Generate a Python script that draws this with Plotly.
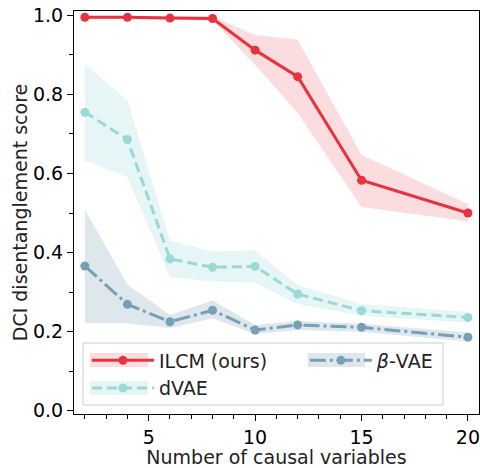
import plotly.graph_objects as go

n_vars = [2, 4, 6, 8, 10, 12, 15, 20]

ilcm_mean = [0.995, 0.995, 0.993, 0.992, 0.912, 0.845, 0.583, 0.500]
ilcm_low = [0.990, 0.990, 0.988, 0.987, 0.875, 0.753, 0.515, 0.479]
ilcm_high = [0.999, 0.999, 0.998, 0.997, 0.950, 0.938, 0.647, 0.523]

dvae_mean = [0.755, 0.686, 0.384, 0.363, 0.365, 0.295, 0.253, 0.236]
dvae_low = [0.633, 0.591, 0.338, 0.327, 0.324, 0.270, 0.240, 0.223]
dvae_high = [0.876, 0.785, 0.430, 0.403, 0.405, 0.318, 0.270, 0.250]

bvae_mean = [0.366, 0.269, 0.225, 0.254, 0.204, 0.217, 0.211, 0.186]
bvae_low = [0.221, 0.221, 0.209, 0.234, 0.194, 0.204, 0.200, 0.175]
bvae_high = [0.508, 0.319, 0.242, 0.279, 0.217, 0.227, 0.220, 0.198]

series = [
    ("ILCM (ours)", ilcm_mean, ilcm_low, ilcm_high, "#E8333F", "rgba(232,51,63,0.17)", "solid", "legend"),
    ("dVAE", dvae_mean, dvae_low, dvae_high, "#9BD9D6", "rgba(155,217,214,0.25)", "10px,5px", "legend"),
    ("<i>β</i>-VAE", bvae_mean, bvae_low, bvae_high, "#779FB5", "rgba(119,159,181,0.25)", "16px,4px,3px,4px", "legend2"),
]

fig = go.Figure()
for name, mean, low, high, col, fillcol, dash, leg in series:
    fig.add_trace(go.Scatter(
        x=n_vars + n_vars[::-1], y=high + low[::-1],
        fill="toself", fillcolor=fillcol, line=dict(width=0),
        mode="lines", hoverinfo="skip", showlegend=False))
for name, mean, low, high, col, fillcol, dash, leg in series:
    fig.add_trace(go.Scatter(
        x=n_vars, y=mean, mode="lines+markers", name=name,
        line=dict(color=col, width=3, dash=dash),
        marker=dict(color=col, size=9), legend=leg))

FS = 19
axis_common = dict(
    showline=True, linecolor="black", linewidth=1.2, mirror=True,
    ticks="outside", ticklen=6, tickwidth=1.1, tickcolor="black",
    showgrid=False, zeroline=False, automargin=False, ticklabeloverflow="allow",
    tickfont=dict(family="DejaVu Sans", size=FS, color="black"),
    title_font=dict(family="DejaVu Sans", size=FS, color="#222"),
)

fig.update_xaxes(range=[1.49, 20.52], tickvals=[5, 10, 15, 20],
                 minor=dict(dtick=1, tick0=0, ticks="outside", ticklen=3.5, tickcolor="black"),
                 title_text="Number of causal variables", title_standoff=4, **axis_common)
fig.update_yaxes(range=[-0.0083, 1.011], tickvals=[0, 0.2, 0.4, 0.6, 0.8, 1.0],
                 tickformat=".1f",
                 minor=dict(dtick=0.1, tick0=0, ticks="outside", ticklen=3.5, tickcolor="black"),
                 title_text="DCI disentanglement score", title_standoff=0, **axis_common)

legend_common = dict(orientation="v", xanchor="left", yanchor="top",
                     bgcolor="rgba(0,0,0,0)", borderwidth=0, itemwidth=62,
                     font=dict(size=FS, family="DejaVu Sans", color="#222"),
                     tracegroupgap=0)

# legend frame and band patches behind legend symbols
shapes = [dict(type="rect", xref="paper", yref="paper",
               x0=0.0222, x1=0.911, y0=0.0223, y1=0.1762,
               fillcolor="rgba(255,255,255,0.8)", line=dict(color="#cccccc", width=1),
               layer="above")]
patch_boxes = [(0.0395, 0.1827, 0.1166, 0.1514),
               (0.0395, 0.1827, 0.0471, 0.0819),
               (0.5778, 0.7185, 0.1166, 0.1514)]
for (x0, x1, y0, y1), s in zip(patch_boxes, series):
    shapes.append(dict(type="rect", xref="paper", yref="paper",
                       x0=x0, x1=x1, y0=y0, y1=y1,
                       fillcolor=s[5], line=dict(width=0), layer="above"))

fig.update_layout(
    width=480, height=468,
    margin=dict(l=74, r=1, t=11, b=54),
    plot_bgcolor="white", paper_bgcolor="white",
    font=dict(family="DejaVu Sans", size=FS, color="black"),
    legend=dict(x=0.032, y=0.18, **legend_common),
    legend2=dict(x=0.570, y=0.18, **legend_common),
    shapes=shapes,
)

fig.write_html("out.html", config={"displayModeBar": False},
               post_script="document.body.style.margin='0';")
